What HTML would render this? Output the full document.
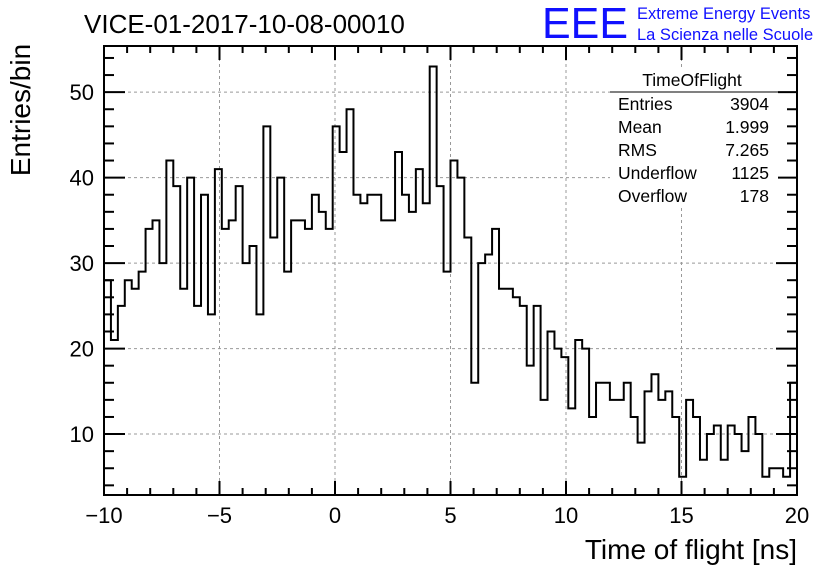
<!DOCTYPE html>
<html><head><meta charset="utf-8"><style>
html,body{margin:0;padding:0;background:#fff;}
svg{display:block;font-family:"Liberation Sans",sans-serif;}
</style></head><body>
<svg id="chart" width="836" height="572" viewBox="0 0 836 572">
<g id="grid"></g>
<g id="axes"></g>
<path id="hist" fill="none" stroke="#000" stroke-width="2"/>
<text x="84" y="33" font-size="26">VICE-01-2017-10-08-00010</text>
<text x="542" y="38" font-size="44" fill="#1010ff" textLength="86" lengthAdjust="spacingAndGlyphs">EEE</text>
<text x="637" y="19" font-size="16.5" fill="#1010ff">Extreme Energy Events</text>
<text x="637" y="40" font-size="16.5" fill="#1010ff">La Scienza nelle Scuole</text>
<text transform="translate(30,110) rotate(-90)" text-anchor="middle" font-size="28">Entries/bin</text>
<text x="797" y="559" text-anchor="end" font-size="28">Time of flight [ns]</text>
<g font-size="17.5">
<rect x="610" y="70" width="168" height="138" fill="#fff"/>
<text x="692" y="86" text-anchor="middle">TimeOfFlight</text>
<line x1="610" y1="92" x2="778" y2="92" stroke="#000" stroke-width="1"/>
<text x="618" y="110">Entries</text><text x="769" y="110" text-anchor="end">3904</text>
<text x="618" y="133">Mean</text><text x="769" y="133" text-anchor="end">1.999</text>
<text x="618" y="156">RMS</text><text x="769" y="156" text-anchor="end">7.265</text>
<text x="618" y="179">Underflow</text><text x="769" y="179" text-anchor="end">1125</text>
<text x="618" y="202">Overflow</text><text x="769" y="202" text-anchor="end">178</text>
</g>
</svg>
<script>
const binLow = -10, binWidth = 0.3;
const counts = [28,21,25,28,27,29,34,35,30,42,39,27,40,25,38,24,41,34,35,39,30,32,24,46,33,40,29,35,35,34,38,36,34,46,43,48,38,37,38,38,35,35,43,38,36,41,37,53,39,29,42,40,33,16,30,31,34,27,27,26,25,18,25,14,22,20,19,13,21,20,12,16,16,14,14,16,12,9,15,17,14,15,12,5,14,12,7,10,11,7,11,10,8,12,10,5,6,6,5,16];
const xTicks = [-10,-5,0,5,10,15,20];
const yTicks = [10,20,30,40,50];
const L=104,R=797,T=46,B=495, xMin=-10,xMax=20,yMin=2.87,yMax=55.4;
const sx=v=>L+(v-xMin)/(xMax-xMin)*(R-L);
const sy=v=>B-(v-yMin)/(yMax-yMin)*(B-T);
const NS='http://www.w3.org/2000/svg';
const grid=document.getElementById('grid'), axes=document.getElementById('axes');
function mk(tag,attrs,parent){const e=document.createElementNS(NS,tag);for(const k in attrs)e.setAttribute(k,attrs[k]);parent.appendChild(e);return e;}
xTicks.forEach(t=>{ if(t>xMin&&t<xMax){const g=mk('line',{x1:sx(t),x2:sx(t),y1:T,y2:B,stroke:'#999','stroke-dasharray':'3,3'},grid);

}
 const lb=mk('text',{x:sx(t),y:B+28,'text-anchor':'middle','font-size':'22'},axes);lb.textContent=t===-10?'\u221210':(t<0?'\u2212'+(-t):t);
 
 });
yTicks.forEach(t=>{const g=mk('line',{x1:L,x2:R,y1:sy(t),y2:sy(t),stroke:'#999','stroke-dasharray':'3,3'},grid);
 
 
 const lb=mk('text',{x:L-10,y:sy(t)+8,'text-anchor':'end','font-size':'22'},axes);lb.textContent=t;
 
 });
mk('rect',{x:L,y:T,width:R-L,height:B-T,fill:'none',stroke:'#000','stroke-width':2},axes);
for(let v=-10;v<=20;v+=1){const maj=v%5===0,len=maj?14:7;
 mk('line',{x1:sx(v),x2:sx(v),y1:B,y2:B-len,stroke:'#000','stroke-width':2},axes);
 mk('line',{x1:sx(v),x2:sx(v),y1:T,y2:T+len,stroke:'#000','stroke-width':2},axes);}
for(let v=4;v<=54;v+=2){const maj=v%10===0,len=maj?21:10;
 mk('line',{x1:L,x2:L+len,y1:sy(v),y2:sy(v),stroke:'#000','stroke-width':2},axes);
 mk('line',{x1:R,x2:R-len,y1:sy(v),y2:sy(v),stroke:'#000','stroke-width':2},axes);}
let d='M'+sx(binLow)+','+sy(counts[0]);
counts.forEach((c,i)=>{const x0=sx(binLow+i*binWidth),x1=sx(binLow+(i+1)*binWidth);d+=' L'+x0+','+sy(c)+' L'+x1+','+sy(c);});
d+=' L'+sx(binLow+counts.length*binWidth)+','+B;
document.getElementById('hist').setAttribute('d',d);
</script>
</body></html>
